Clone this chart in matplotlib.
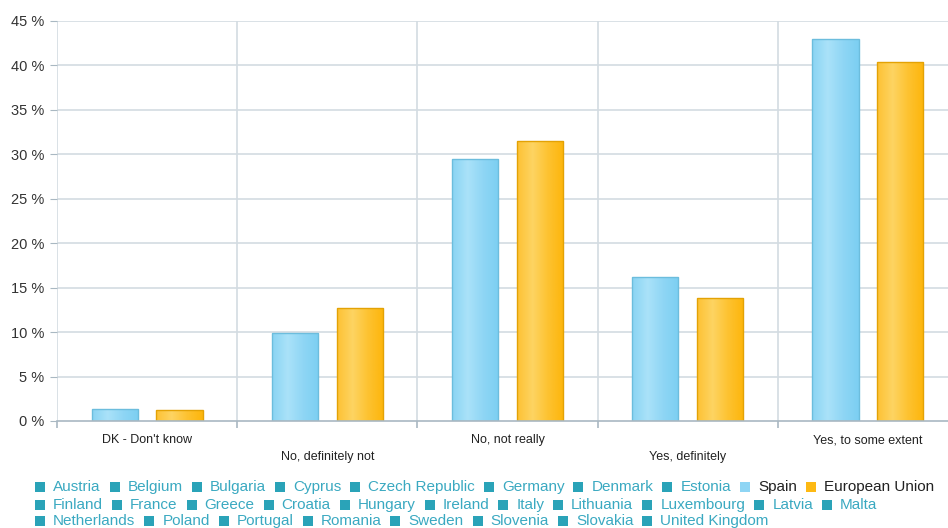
import numpy as np
import matplotlib
matplotlib.use("Agg")
import matplotlib.pyplot as plt
from matplotlib.colors import LinearSegmentedColormap
from matplotlib.patches import Rectangle
from matplotlib.transforms import blended_transform_factory

# ---- data ----
categories = ["DK - Don't know", "No, definitely not", "No, not really",
              "Yes, definitely", "Yes, to some extent"]
spain = [1.4, 9.9, 29.5, 16.2, 43.0]
eu = [1.2, 12.7, 31.5, 13.8, 40.4]
y_ticks = [0, 5, 10, 15, 20, 25, 30, 35, 40, 45]

legend_rows = [
    ["Austria", "Belgium", "Bulgaria", "Cyprus", "Czech Republic", "Germany",
     "Denmark", "Estonia", "Spain", "European Union"],
    ["Finland", "France", "Greece", "Croatia", "Hungary", "Ireland", "Italy",
     "Lithuania", "Luxembourg", "Latvia", "Malta"],
    ["Netherlands", "Poland", "Portugal", "Romania", "Sweden", "Slovenia",
     "Slovakia", "United Kingdom"],
]

plt.rcParams["font.family"] = ["Liberation Sans", "DejaVu Sans"]

W, H = 948, 528
fig = plt.figure(figsize=(W / 100, H / 100), dpi=100)
ax = fig.add_axes([57 / W, (H - 421) / H, (958 - 57) / W, 400 / H])

grid_col = "#d3dce2"
axis_col = "#a9b8c2"

x = np.arange(len(categories))
bw = 0.256
off = 0.18

spain_cmap = LinearSegmentedColormap.from_list(
    "sp", ["#8ad4f3", "#aae2f9", "#8fd6f5", "#7ccff2"])
eu_cmap = LinearSegmentedColormap.from_list(
    "eu", ["#fdc234", "#fed462", "#fdc230", "#fdb60c"])

def gradient_bars(xs, vals, cmap, edge):
    bars = ax.bar(xs, vals, bw, facecolor="none", edgecolor=edge,
                  linewidth=1.0, zorder=4)
    grad = np.linspace(0, 1, 64).reshape(1, -1)
    for b in bars:
        im = ax.imshow(grad, cmap=cmap, aspect="auto", zorder=3,
                       extent=[b.get_x(), b.get_x() + b.get_width(),
                               0, b.get_height()])
        im.set_clip_path(b)
    return bars

gradient_bars(x - off, spain, spain_cmap, "#6cbddd")
gradient_bars(x + off, eu, eu_cmap, "#e3a205")

ax.set_xlim(-0.5, len(categories) - 0.5)
ax.set_ylim(0, 45)

# grid
for v in y_ticks[1:]:
    ax.axhline(v, color=grid_col, lw=1.2, zorder=1)
for b in np.arange(-0.5, len(categories), 1.0):
    ax.axvline(b, color=grid_col, lw=1.2, zorder=1)

for s in ["top", "right", "left"]:
    ax.spines[s].set_visible(False)
ax.spines["bottom"].set_color(axis_col)
ax.spines["bottom"].set_linewidth(1.2)
ax.spines["bottom"].set_zorder(5)

ax.set_yticks(y_ticks)
ax.set_yticklabels([f"{v} %" for v in y_ticks])
ax.tick_params(axis="y", length=5, color=axis_col, pad=4,
               labelsize=10.5, labelcolor="#333333")
ax.set_xticks(np.arange(-0.5, len(categories), 1.0))
ax.set_xticklabels([])
ax.tick_params(axis="x", length=5, color=axis_col, width=1.2)

# staggered category labels
trans = blended_transform_factory(ax.transData, ax.transAxes)
for i, c in enumerate(categories):
    dy = -14 if i % 2 == 0 else -26
    ax.annotate(c, (i, 0), xycoords=trans, xytext=(0, dy),
                textcoords="offset points", ha="center", va="center",
                fontsize=9, color="#222222")

# legend as flowing rows of square markers and names
fig.canvas.draw()
renderer = fig.canvas.get_renderer()
teal = "#2aa3b8"
special = {"Spain": ("#8ed5f4", "#222222"),
           "European Union": ("#fdb913", "#222222")}
row_y = [487, 505, 521]
sq = 10
for row, yy in zip(legend_rows, row_y):
    px = 35
    for name in row:
        sc, tc = special.get(name, (teal, "#3aa9c1"))
        fig.patches.append(Rectangle((px / W, (H - yy - sq / 2) / H),
                                     sq / W, sq / H, facecolor=sc,
                                     edgecolor="none",
                                     transform=fig.transFigure, figure=fig))
        t = fig.text((px + sq + 8) / W, 1 - yy / H, name, fontsize=11,
                     color=tc, ha="left", va="center")
        wpx = t.get_window_extent(renderer).width
        px += sq + 8 + wpx + 9

fig.savefig("out.png", dpi=100)
